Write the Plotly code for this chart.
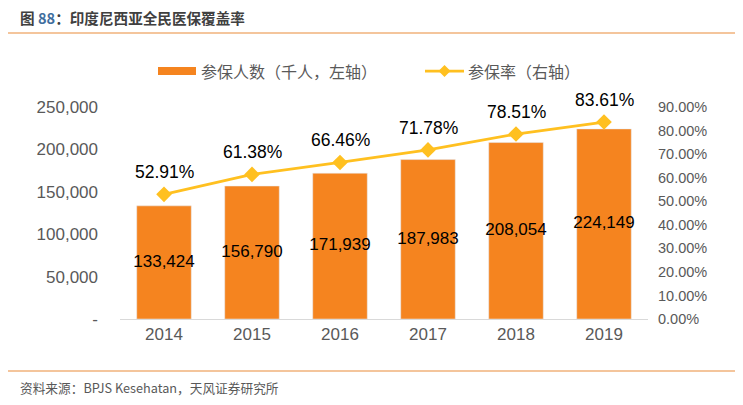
import plotly.graph_objects as go

years = ["2014", "2015", "2016", "2017", "2018", "2019"]
members = [133424, 156790, 171939, 187983, 208054, 224149]
coverage = [0.5291, 0.6138, 0.6646, 0.7178, 0.7851, 0.8361]
left_ticks = [0, 50000, 100000, 150000, 200000, 250000]
left_labels = ["-", "50,000", "100,000", "150,000", "200,000", "250,000"]
right_ticks = [i / 100 for i in range(0, 100, 10)]
right_labels = [f"{t*100:.2f}%" for t in right_ticks]

num_font = "Liberation Sans, Arial, sans-serif"
cjk_font = "Noto Sans CJK SC, sans-serif"
BAR = "#F5841F"
LINE = "#FFC020"
GREY = "#595959"

L, R, T, B = 120, 648, 107, 319
PW, PH = R - L, B - T
def px(x): return (x - L) / PW
def py(y): return (B - y) / PH

fig = go.Figure()
fig.add_trace(go.Bar(
    x=years, y=members, name="参保人数（千人，左轴）",
    marker_color=BAR, width=0.62, yaxis="y",
))
# bar value labels centred in each bar
fig.add_trace(go.Scatter(
    x=years, y=[v / 2 for v in members], mode="text",
    text=[f"{v:,}" for v in members], textposition="middle center",
    textfont=dict(family=num_font, size=17, color="#000000"),
    cliponaxis=False, yaxis="y", showlegend=False, hoverinfo="skip",
))
fig.add_trace(go.Scatter(
    x=years, y=coverage, name="参保率（右轴）", mode="lines+markers",
    line=dict(color=LINE, width=2.75),
    marker=dict(symbol="diamond", size=12, color=LINE),
    cliponaxis=False, yaxis="y2",
))
for i, v in enumerate(coverage):
    fig.add_annotation(x=i, y=v, xref="x", yref="y2", yshift=22,
                       text=f"{v*100:.2f}%", showarrow=False,
                       font=dict(family=num_font, size=17.5, color="#000000"))

fig.update_layout(
    width=743, height=405,
    margin=dict(l=L, r=743 - R, t=T, b=405 - B, autoexpand=False),
    paper_bgcolor="white", plot_bgcolor="white",
    showlegend=False,
    xaxis=dict(type="category", showline=True, linecolor="#D9D9D9", linewidth=1, ticks="",
               tickfont=dict(family=num_font, size=17, color=GREY),
               range=[-0.5, 5.5]),
    yaxis=dict(range=[0, 250000], tickvals=left_ticks, ticktext=left_labels,
               showgrid=False, zeroline=False, ticklabelstandoff=21,
               tickfont=dict(family=num_font, size=17, color=GREY)),
    yaxis2=dict(range=[0, 0.9], tickvals=right_ticks, ticktext=right_labels,
                overlaying="y", side="right", showgrid=False, zeroline=False,
                ticklabelstandoff=9,
                tickfont=dict(family=num_font, size=14.5, color=GREY)),
)

# title and source
fig.add_annotation(
    xref="paper", yref="paper", x=px(18), y=py(17), xanchor="left", yanchor="middle",
    text="<b>图 <span style='color:#3F6E9E'>88</span>：印度尼西亚全民医保覆盖率</b>",
    showarrow=False, font=dict(family=cjk_font, size=14.6, color="#404040"),
)
fig.add_annotation(
    xref="paper", yref="paper", x=px(18), y=py(387), xanchor="left", yanchor="middle",
    text="资料来源：BPJS Kesehatan，天风证券研究所",
    showarrow=False, font=dict(family=cjk_font, size=12.7, color=GREY),
)
for yy in [33, 371]:
    fig.add_shape(type="line", xref="paper", yref="paper",
                  x0=px(8), x1=px(735), y0=py(yy), y1=py(yy),
                  line=dict(color="#E98B3A", width=1.2))

# manual legend
fig.add_shape(type="rect", xref="paper", yref="paper",
              x0=px(158), x1=px(196), y0=py(75), y1=py(67),
              fillcolor=BAR, line=dict(width=0))
fig.add_annotation(xref="paper", yref="paper", x=px(199), y=py(71),
                   xanchor="left", yanchor="middle", showarrow=False,
                   text="参保人数（千人，左轴）",
                   font=dict(family=cjk_font, size=16, color=GREY))
fig.add_shape(type="line", xref="paper", yref="paper",
              x0=px(425), x1=px(464), y0=py(71), y1=py(71),
              line=dict(color=LINE, width=2.75))
cx, cy, d = 444.5, 71, 6
fig.add_shape(type="path", xref="paper", yref="paper",
              path=f"M {px(cx-d)} {py(cy)} L {px(cx)} {py(cy-d)} L {px(cx+d)} {py(cy)} L {px(cx)} {py(cy+d)} Z",
              fillcolor=LINE, line=dict(width=0))
fig.add_annotation(xref="paper", yref="paper", x=px(466), y=py(71),
                   xanchor="left", yanchor="middle", showarrow=False,
                   text="参保率（右轴）",
                   font=dict(family=cjk_font, size=16, color=GREY))

fig.write_html("out.html", config={"displayModeBar": False},
               post_script="document.body.style.margin='0';document.body.style.padding='0';")
